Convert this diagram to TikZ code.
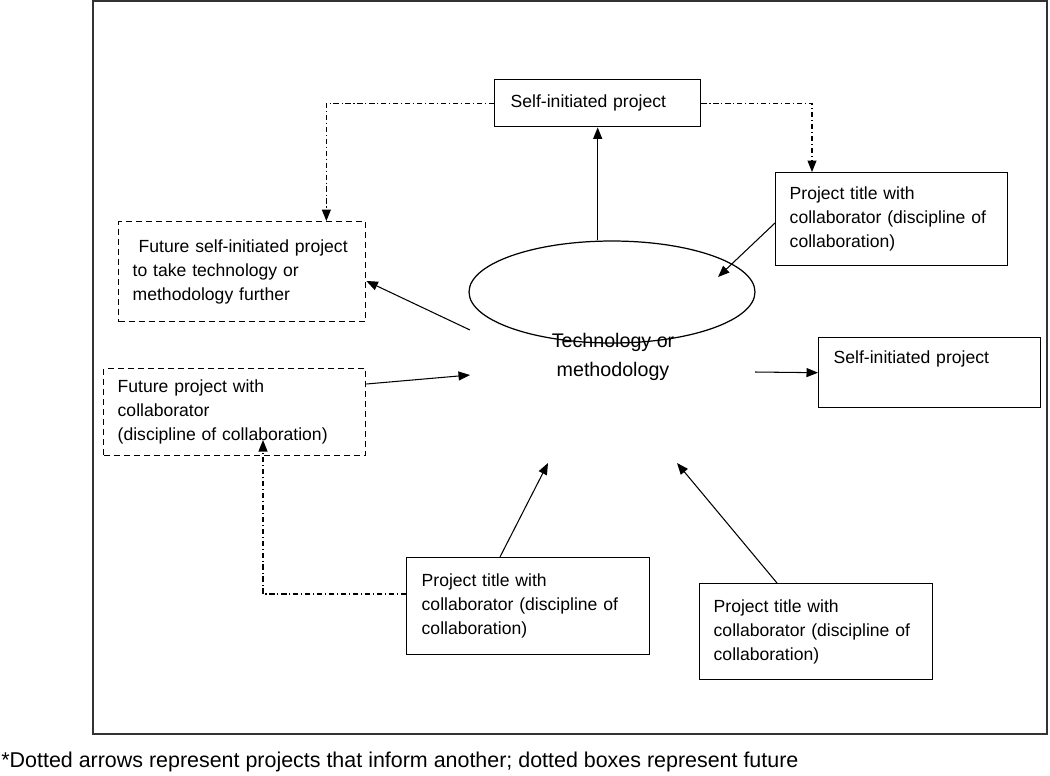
\documentclass[tikz,border=0pt]{standalone}
\usepackage{fontspec}
\setmainfont{Liberation Sans}
\usetikzlibrary{shapes.geometric,arrows.meta}

\begin{document}
\begin{tikzpicture}[x=0.02cm, y=-0.02cm,
  box/.style={draw, line width=0.8pt, anchor=north west, align=left,
    inner ysep=0pt, font=\fontsize{10}{13.6}\selectfont},
  future/.style={box, dash pattern=on 3.4pt off 2.3pt},
  arr/.style={line width=0.6pt, -{Triangle[length=0.23cm, width=0.18cm]}},
  link/.style={arr, dash pattern=on 3pt off 1.6pt on 0.6pt off 1.6pt}]

% Page size and the outer frame
\useasboundingbox (0,0) rectangle (1050,775);
\draw [line width=0.9pt, draw=black!80] (93,1) rectangle (1047,734);

% The technology in the middle
\node [draw, ellipse, line width=0.7pt, minimum width=5.72cm, minimum height=2.04cm] (core) at (612,292) {};
\node [align=center, font=\fontsize{11.2}{16.4}\selectfont] (techlbl) at (613,357) {Technology or\\methodology};

% Project boxes
\node [box, text width=3.48cm, inner xsep=0.32cm, minimum height=0.94cm] (topself) at (494,79) {Self-initiated project};
\node [box, text width=4.08cm, inner xsep=0.28cm, minimum height=1.86cm] (trcollab) at (775,172)
  {Project title with\\collaborator (discipline of\\collaboration)};
\node [box, text width=3.84cm, inner xsep=0.3cm, text height=0.4cm, text depth=0.76cm, inner ysep=0.12cm] (rself) at (818,337)
  {Self-initiated project};
\node [box, text width=4.26cm, inner xsep=0.3cm, minimum height=1.94cm] (bmcollab) at (406,557)
  {Project title with\\collaborator (discipline of\\collaboration)};
\node [box, text width=4.1cm, inner xsep=0.28cm, minimum height=1.92cm] (brcollab) at (699,583)
  {Project title with\\collaborator (discipline of\\collaboration)};

% Future projects (dashed)
\node [future, text width=4.38cm, inner xsep=0.28cm, minimum height=2.0cm] (futself) at (118,221)
  {\hspace*{0.12cm}Future self-initiated project\\to take technology or\\methodology further};
\node [future, text width=4.68cm, inner xsep=0.28cm, minimum height=1.74cm] (futcollab) at (103,368)
  {Future project with\\collaborator\\(discipline of collaboration)};

% Free ends of the arrows near the ellipse
\coordinate (intr) at (718,277);
\coordinate (outfs) at (470,330);
\coordinate (infc) at (470,375);
\coordinate (inbm) at (548,463);
\coordinate (inbr) at (677,463);
\coordinate (outrs) at (755,372);
\coordinate (infut) at (263,440);

% Solid arrows
\draw [arr] (core.north -| topself.south) -- (topself.south);
\draw [arr] ([yshift=-1.02cm]trcollab.north west) -- (intr);
\draw [arr] (outfs) -- ([yshift=-1.2cm]futself.north east);
\draw [arr] ([yshift=-0.32cm]futcollab.north east) -- (infc);
\draw [arr] ([xshift=1.88cm]bmcollab.north west) -- (inbm);
\draw [arr] ([xshift=1.56cm]brcollab.north west) -- (inbr);
\draw [arr] (outrs) -- (rself.west);

% Dotted arrows: projects that inform another
\draw [link] (topself.west) -| ([xshift=-0.8cm]futself.north east);
\draw [link] (topself.east) -| ([xshift=0.74cm]trcollab.north west);
\draw [link] ([yshift=-0.74cm]bmcollab.north west) -| (infut);

% Footnote
\node [anchor=west, font=\fontsize{12.2}{14}\selectfont, inner sep=0pt] (note) at (1,762)
  {*Dotted arrows represent projects that inform another; dotted boxes represent future};
\end{tikzpicture}
\end{document}
